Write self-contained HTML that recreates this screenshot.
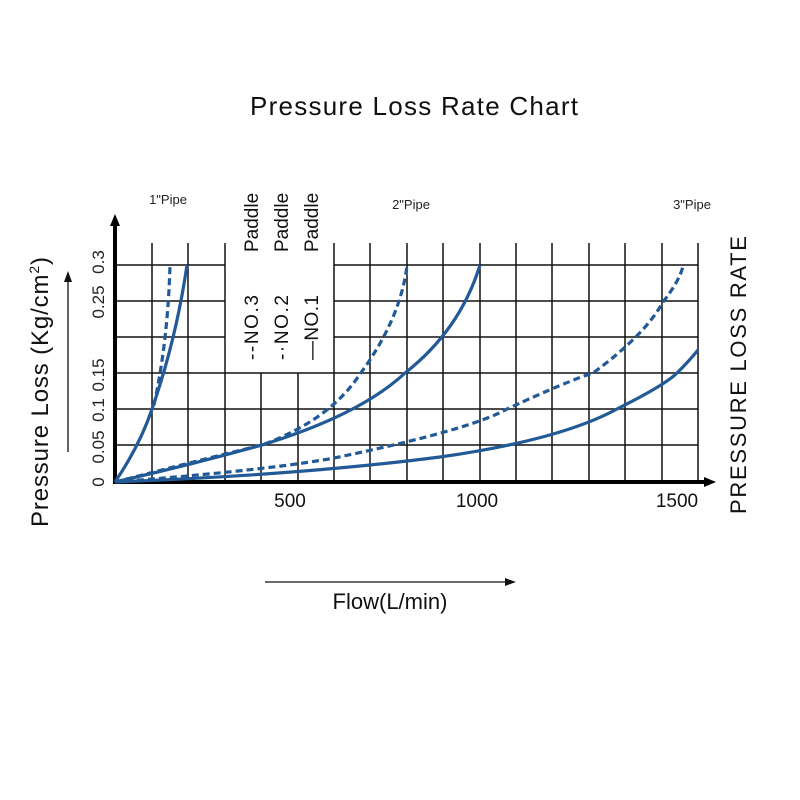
<!DOCTYPE html>
<html><head><meta charset="utf-8"><style>body{margin:0;background:#fff}svg{display:block}</style></head>
<body>
<svg width="800" height="800" viewBox="0 0 800 800" xmlns="http://www.w3.org/2000/svg" font-family="Liberation Sans, sans-serif">
<rect width="800" height="800" fill="#fff"/>
<text x="414" y="115" font-size="26" text-anchor="middle" textLength="328" fill="#111">Pressure Loss Rate Chart</text>
<text x="168" y="204" font-size="13" text-anchor="middle" fill="#222">1"Pipe</text>
<text x="411" y="209" font-size="13" text-anchor="middle" fill="#222">2"Pipe</text>
<text x="692" y="209" font-size="13" text-anchor="middle" fill="#222">3"Pipe</text>
<g stroke="#111" stroke-width="1.5">
<line x1="115" y1="265" x2="225" y2="265"/><line x1="334" y1="265" x2="698" y2="265"/>
<line x1="115" y1="301" x2="225" y2="301"/><line x1="334" y1="301" x2="698" y2="301"/>
<line x1="115" y1="337" x2="225" y2="337"/><line x1="334" y1="337" x2="698" y2="337"/>
<line x1="115" y1="373" x2="698" y2="373"/>
<line x1="115" y1="409" x2="698" y2="409"/>
<line x1="115" y1="445" x2="698" y2="445"/>
<line x1="152" y1="243" x2="152" y2="482"/>
<line x1="188" y1="243" x2="188" y2="482"/>
<line x1="225" y1="243" x2="225" y2="482"/>
<line x1="261" y1="373" x2="261" y2="482"/>
<line x1="298" y1="373" x2="298" y2="482"/>
<line x1="334" y1="243" x2="334" y2="482"/>
<line x1="370" y1="243" x2="370" y2="482"/>
<line x1="407" y1="243" x2="407" y2="482"/>
<line x1="443" y1="243" x2="443" y2="482"/>
<line x1="480" y1="243" x2="480" y2="482"/>
<line x1="516" y1="243" x2="516" y2="482"/>
<line x1="552" y1="243" x2="552" y2="482"/>
<line x1="589" y1="243" x2="589" y2="482"/>
<line x1="625" y1="243" x2="625" y2="482"/>
<line x1="662" y1="243" x2="662" y2="482"/>
<line x1="698" y1="243" x2="698" y2="482"/>
</g>
<line x1="115" y1="484" x2="115" y2="224" stroke="#000" stroke-width="4"/>
<polygon points="115,214 110,226 120,226" fill="#000"/>
<line x1="113" y1="482" x2="705" y2="482" stroke="#000" stroke-width="4"/>
<polygon points="716,482 704,477 704,487" fill="#000"/>
<g fill="none" stroke="#215a96" stroke-width="3.2">
<path d="M115,482 Q140,445 152,409 Q176,340 187,265"/>
<path d="M154,405 Q168,340 170,265" stroke-dasharray="7,4"/>
<path d="M115,482 Q190,465 262,445 Q360,415 405,373 Q460,330 480,265"/>
<path d="M115,482 Q200,460 262,445 Q330,420 360,374 Q400,320 407,266" stroke-dasharray="7,4"/>
<path d="M115,482 Q270,470 334,458 Q470,430 507,409 Q570,380 593,373 Q645,335 663,302 Q680,280 683,266" stroke-dasharray="7,4"/>
<path d="M115,482 Q300,475 440,457 Q560,440 617,409 Q665,385 677,373 Q690,360 698,350"/>
</g>
<g font-size="17" fill="#222" text-anchor="middle">
<text transform="translate(104,482) rotate(-90)">0</text>
<text transform="translate(104,447) rotate(-90)">0.05</text>
<text transform="translate(104,410) rotate(-90)">0.1</text>
<text transform="translate(104,375) rotate(-90)">0.15</text>
<text transform="translate(104,302) rotate(-90)">0.25</text>
<text transform="translate(104,262) rotate(-90)">0.3</text>
</g>
<g font-size="19" fill="#111" text-anchor="middle">
<text x="290" y="507">500</text>
<text x="477" y="507">1000</text>
<text x="677" y="507">1500</text>
</g>
<g font-size="19" fill="#111">
<text transform="translate(258,252) rotate(-90)">Paddle</text>
<text transform="translate(288,252) rotate(-90)">Paddle</text>
<text transform="translate(318,252) rotate(-90)">Paddle</text>
<text transform="translate(258,360) rotate(-90)" textLength="65">--NO.3</text>
<text transform="translate(288,360) rotate(-90)" textLength="65">-·NO.2</text>
<text transform="translate(318,360) rotate(-90)" textLength="65">—NO.1</text>
</g>
<text transform="translate(48,392) rotate(-90)" font-size="24" text-anchor="middle" fill="#111" textLength="270">Pressure Loss  (Kg/cm<tspan dy="-9" font-size="14">2</tspan><tspan dy="9">)</tspan></text>
<line x1="68" y1="452" x2="68" y2="280" stroke="#111" stroke-width="1.3"/>
<polygon points="68,271 64,282 72,282" fill="#111"/>
<text transform="translate(746,375) rotate(-90)" font-size="22" text-anchor="middle" fill="#111" textLength="278">PRESSURE LOSS RATE</text>
<line x1="265" y1="582" x2="508" y2="582" stroke="#111" stroke-width="1.3"/>
<polygon points="516,582 505,578 505,586" fill="#111"/>
<text x="390" y="609" font-size="22" text-anchor="middle" fill="#111">Flow(L/min)</text>
</svg>
</body></html>
